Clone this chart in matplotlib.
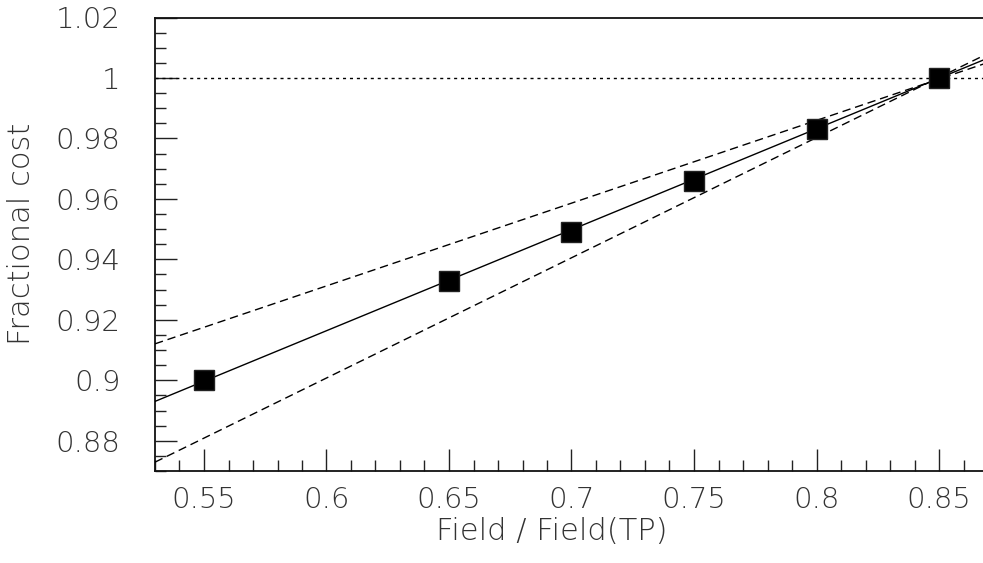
import numpy as np
import matplotlib
matplotlib.use("Agg")
import matplotlib.pyplot as plt
from matplotlib.ticker import MultipleLocator, FuncFormatter

# Measured cost relative to the reference design
field_ratio = [0.55, 0.65, 0.70, 0.75, 0.80, 0.85]
fractional_cost = [0.900, 0.933, 0.949, 0.966, 0.983, 1.000]

# Straight-line models: central fit and the two bounding scalings
fit_intercept = 0.716
fit_slope = 0.334
upper_intercept = 0.767
upper_slope = 0.2737
lower_intercept = 0.6622
lower_slope = 0.3976

x_range = (0.53, 0.87)
y_range = (0.87, 1.02)
x_ticks = [0.55, 0.60, 0.65, 0.70, 0.75, 0.80, 0.85]
y_ticks = [0.88, 0.90, 0.92, 0.94, 0.96, 0.98, 1.00, 1.02]

plt.rcParams['font.family'] = ['DejaVu Sans']
plt.rcParams['font.weight'] = 'light'
plt.rcParams['axes.labelweight'] = 'light'

fig = plt.figure(figsize=(9.83, 5.63), dpi=100)
ax = fig.add_axes([155 / 983, (563 - 471) / 563, (988 - 155) / 983, (471 - 17.5) / 563])

xs = np.linspace(x_range[0], x_range[1], 200)
ax.plot(xs, fit_intercept + fit_slope * xs, color='black', lw=1.0, zorder=3)
ax.plot(xs, upper_intercept + upper_slope * xs, color='black', lw=1.0,
        linestyle=(0, (6, 3.5)), zorder=3)
ax.plot(xs, lower_intercept + lower_slope * xs, color='black', lw=1.0,
        linestyle=(0, (6, 3.5)), zorder=3)
ax.axhline(1.0, color='black', lw=1.0, linestyle=(0, (2.2, 2.8)), zorder=2)

ax.plot(field_ratio, fractional_cost, linestyle='none', marker='s',
        markersize=15, color='black', markeredgecolor='#222222', zorder=4)

ax.set_xlim(*x_range)
ax.set_ylim(*y_range)
ax.set_xticks(x_ticks)
ax.set_yticks(y_ticks)
ax.xaxis.set_minor_locator(MultipleLocator(0.01))
ax.yaxis.set_minor_locator(MultipleLocator(0.005))
fmt = FuncFormatter(lambda v, p: f"{v:.2f}".rstrip('0').rstrip('.'))
ax.xaxis.set_major_formatter(fmt)
ax.yaxis.set_major_formatter(fmt)

ax.tick_params(which='both', direction='in', color='#222222', width=1.0,
               labelsize=21, labelcolor='#333333', top=False, right=False)
ax.tick_params(which='major', length=16)
ax.tick_params(which='minor', length=8)
ax.tick_params(axis='x', which='major', pad=11)
ax.tick_params(axis='y', which='major', pad=25)

for side in ['left', 'bottom', 'top', 'right']:
    ax.spines[side].set_linewidth(1.3)
    ax.spines[side].set_color('#111111')

ax.set_xlabel('Field / Field(TP)', fontsize=22, color='#333333', fontweight='light')
ax.set_ylabel('Fractional cost', fontsize=22, color='#333333', fontweight='light')
ax.xaxis.set_label_coords(0.4766, -0.1345)
ax.xaxis.label.set_va('center')
ax.yaxis.set_label_coords(-0.16, 0.5226)
ax.yaxis.label.set_va('center')

fig.savefig('out.png', dpi=100)
